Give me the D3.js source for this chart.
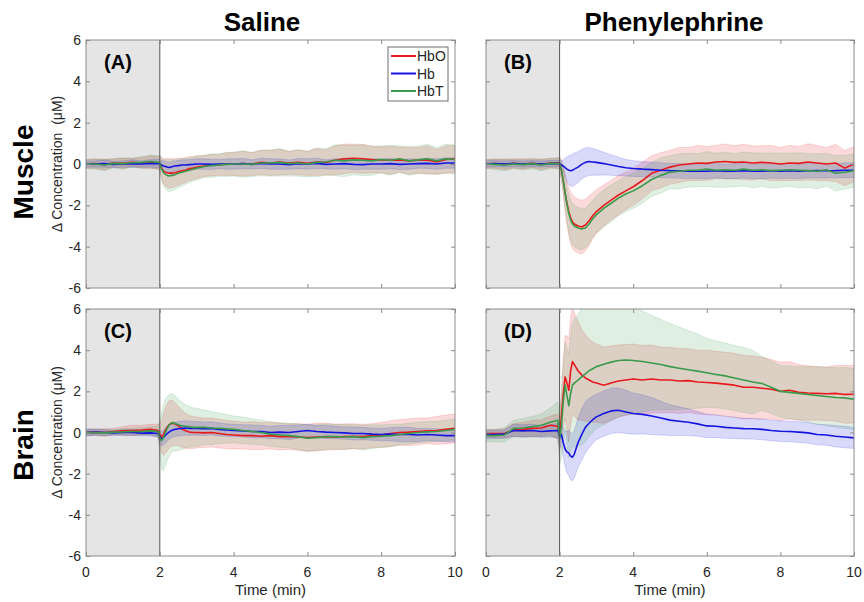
<!DOCTYPE html>
<html>
<head>
<meta charset="utf-8">
<script src="https://cdn.jsdelivr.net/npm/d3@7.9.0/dist/d3.min.js"></script>
<style>
  body { margin: 0; background: #fff; }
  svg { font-family: "Liberation Sans", Arial, sans-serif; }
</style>
</head>
<body>
<svg id="chart" width="864" height="602"></svg>
<script>
// time samples (min), shared by every series
const time = [0,0.25,0.5,0.75,1,1.25,1.5,1.75,1.95,2.0,
  2.05,2.1,2.15,2.2,2.25,2.3,2.35,2.4,2.5,2.6,2.7,2.8,2.9,3.0,
  3.2,3.4,3.6,3.8,4.0,4.25,4.5,4.75,5,5.25,5.5,5.75,6,6.25,6.5,6.75,
  7,7.25,7.5,7.75,8,8.25,8.5,8.75,9,9.25,9.5,9.75,10];

const xTicks = [0, 2, 4, 6, 8, 10];
const yTicks = [-6, -4, -2, 0, 2, 4, 6];
const colTitles = ["Saline", "Phenylephrine"];
const rowTitles = ["Muscle", "Brain"];
const seriesNames = ["HbO", "Hb", "HbT"];

// (A) saline / muscle
const aHbO = [0,0.02,-0.03,0.05,0.03,0.08,0.05,0.1,0.05,0.05,
  -0.2,-0.35,-0.4,-0.42,-0.45,-0.43,-0.45,-0.42,-0.38,-0.33,-0.3,-0.22,-0.2,-0.15,
  -0.1,-0.05,-0.05,0,0,0.02,0,0.08,0.05,0.1,0.05,0.08,0.03,0.1,0.08,0.18,
  0.25,0.28,0.25,0.22,0.2,0.18,0.2,0.15,0.18,0.2,0.1,0.22,0.25];
const aHbOsd = [0.2,0.22,0.25,0.2,0.25,0.2,0.25,0.3,0.3,0.35,
  0.5,0.6,0.65,0.7,0.72,0.7,0.7,0.68,0.65,0.62,0.6,0.58,0.55,0.55,
  0.5,0.52,0.5,0.55,0.55,0.6,0.55,0.58,0.6,0.62,0.55,0.6,0.58,0.65,0.6,0.7,
  0.72,0.68,0.7,0.65,0.62,0.68,0.6,0.65,0.62,0.68,0.6,0.65,0.65];
const aHb = [0,0,0.02,-0.02,0,0.02,0,0.03,0.02,0.02,
  -0.05,-0.1,-0.12,-0.15,-0.17,-0.15,-0.12,-0.1,-0.08,-0.05,-0.05,-0.03,-0.02,0,
  0,-0.02,0,0,0,0.02,-0.02,0.03,0,0,-0.03,0.02,0,0.03,-0.02,0,
  0.02,-0.02,-0.03,0,0,0.02,-0.02,0,0.02,0.03,0,0.05,0.05];
const aHbsd = [0.15,0.15,0.18,0.15,0.15,0.18,0.15,0.18,0.2,0.2,
  0.22,0.25,0.25,0.25,0.25,0.25,0.25,0.25,0.25,0.25,0.25,0.25,0.25,0.25,
  0.25,0.25,0.22,0.25,0.25,0.25,0.22,0.25,0.25,0.25,0.22,0.25,0.25,0.25,0.22,0.25,
  0.25,0.25,0.22,0.25,0.25,0.25,0.25,0.25,0.22,0.25,0.25,0.25,0.25];
const aHbT = [0,0,-0.05,0.03,0.02,0.06,0.08,0.12,0.08,0.06,
  -0.25,-0.42,-0.5,-0.55,-0.58,-0.55,-0.55,-0.52,-0.45,-0.4,-0.35,-0.3,-0.25,-0.2,
  -0.12,-0.08,-0.05,-0.02,0,0,-0.02,0.05,0.05,0.08,0.02,0.05,0,0.08,0.1,0.18,
  0.15,0.2,0.18,0.15,0.22,0.18,0.25,0.15,0.2,0.25,0.15,0.25,0.22];
const aHbTsd = [0.22,0.25,0.28,0.22,0.28,0.22,0.28,0.32,0.32,0.38,
  0.55,0.65,0.7,0.75,0.78,0.76,0.75,0.72,0.7,0.66,0.63,0.6,0.58,0.58,
  0.54,0.56,0.54,0.58,0.58,0.64,0.58,0.62,0.64,0.66,0.6,0.64,0.62,0.7,0.64,0.75,
  0.76,0.72,0.74,0.7,0.66,0.72,0.64,0.7,0.66,0.72,0.64,0.7,0.7];

// (B) phenylephrine / muscle
const bHbO = [0,0.02,-0.02,0.03,0,0.03,-0.02,0.05,0.05,0.03,
  -0.3,-0.8,-1.4,-1.9,-2.3,-2.6,-2.8,-2.9,-3.0,-3.05,-2.95,-2.75,-2.5,-2.3,
  -2.0,-1.75,-1.5,-1.3,-1.1,-0.8,-0.45,-0.3,-0.15,-0.05,0,0.05,0.03,0.1,0.12,0.08,
  0.1,0.05,0.08,0.05,0,0.05,0.03,0.1,0.05,0,0.05,-0.2,0];
const bHbOsd = [0.2,0.22,0.25,0.22,0.25,0.2,0.25,0.22,0.25,0.3,
  0.5,0.7,0.9,1.05,1.15,1.25,1.3,1.3,1.3,1.3,1.25,1.2,1.1,1.05,
  1.0,0.95,0.95,0.9,0.9,0.88,0.85,0.85,0.82,0.85,0.8,0.85,0.82,0.8,0.85,0.8,
  0.85,0.82,0.8,0.85,0.8,0.85,0.82,0.88,0.85,0.8,0.9,0.85,0.85];
const bHb = [0,0.02,0,0.02,0,0.02,0,0.02,0.03,0.02,
  -0.05,-0.1,-0.18,-0.25,-0.3,-0.32,-0.3,-0.25,-0.15,-0.02,0.08,0.12,0.1,0.08,
  0.02,-0.05,-0.12,-0.18,-0.22,-0.25,-0.27,-0.3,-0.32,-0.33,-0.35,-0.35,-0.35,-0.33,-0.35,-0.35,
  -0.33,-0.35,-0.35,-0.33,-0.35,-0.33,-0.35,-0.33,-0.32,-0.33,-0.32,-0.3,-0.3];
const bHbsd = [0.15,0.15,0.15,0.15,0.15,0.15,0.15,0.15,0.15,0.15,
  0.2,0.3,0.45,0.6,0.7,0.75,0.78,0.78,0.75,0.72,0.7,0.68,0.65,0.62,
  0.55,0.5,0.45,0.4,0.38,0.37,0.36,0.36,0.35,0.36,0.35,0.35,0.36,0.35,0.35,0.36,
  0.35,0.35,0.36,0.35,0.35,0.36,0.35,0.35,0.36,0.35,0.35,0.36,0.35];
const bHbT = [0,-0.02,-0.05,0,-0.03,0.02,-0.05,0.03,0.02,0,
  -0.3,-0.8,-1.4,-1.95,-2.4,-2.7,-2.9,-3.0,-3.1,-3.15,-3.1,-2.9,-2.65,-2.45,
  -2.15,-1.9,-1.65,-1.45,-1.3,-1.05,-0.75,-0.55,-0.4,-0.35,-0.3,-0.3,-0.25,-0.3,-0.28,-0.3,
  -0.25,-0.3,-0.28,-0.32,-0.3,-0.28,-0.3,-0.32,-0.35,-0.28,-0.45,-0.4,-0.32];
const bHbTsd = [0.22,0.25,0.28,0.22,0.25,0.25,0.28,0.25,0.25,0.3,
  0.45,0.6,0.75,0.85,0.9,0.95,1.0,1.0,1.0,1.0,0.95,0.95,0.9,0.9,
  0.9,0.88,0.85,0.85,0.85,0.85,0.82,0.85,0.8,0.85,0.82,0.8,0.85,0.82,0.85,0.8,
  0.82,0.85,0.8,0.85,0.82,0.8,0.85,0.82,0.85,0.8,0.85,0.82,0.8];

// (C) saline / brain
const cHbO = [0,0.02,0,0.05,0.08,0.1,0.12,0.15,0.1,-0.1,
  -0.2,-0.1,0.1,0.25,0.38,0.43,0.45,0.42,0.32,0.18,0.08,0.02,0,0,
  -0.02,0,-0.05,-0.1,-0.12,-0.15,-0.15,-0.18,-0.15,-0.2,-0.2,-0.22,-0.25,-0.22,-0.2,-0.22,
  -0.2,-0.18,-0.2,-0.15,-0.12,-0.05,0,0.02,0.05,0.08,0.1,0.15,0.2];
const cHbOsd = [0.15,0.15,0.18,0.15,0.2,0.25,0.22,0.25,0.3,0.5,
  0.8,1.0,1.1,1.15,1.15,1.12,1.1,1.05,0.95,0.9,0.85,0.8,0.78,0.75,
  0.72,0.7,0.7,0.68,0.68,0.65,0.68,0.65,0.65,0.65,0.62,0.65,0.65,0.68,0.65,0.62,
  0.62,0.6,0.6,0.58,0.6,0.62,0.62,0.65,0.65,0.62,0.68,0.7,0.7];
const cHb = [0,0.02,0,-0.02,0,0,-0.03,-0.02,-0.05,-0.2,
  -0.3,-0.25,-0.15,-0.05,0.02,0.08,0.12,0.15,0.18,0.2,0.22,0.2,0.2,0.2,
  0.18,0.2,0.15,0.12,0.1,0.08,0.05,0.05,0,0.02,0,0.05,0.1,0.05,0.02,0,
  -0.02,-0.05,-0.05,-0.08,-0.1,-0.08,-0.1,-0.1,-0.12,-0.1,-0.12,-0.15,-0.15];
const cHbsd = [0.18,0.15,0.15,0.12,0.15,0.15,0.12,0.15,0.18,0.25,
  0.35,0.35,0.38,0.38,0.36,0.35,0.35,0.35,0.35,0.35,0.35,0.35,0.33,0.33,
  0.33,0.32,0.32,0.3,0.3,0.3,0.32,0.3,0.3,0.32,0.35,0.32,0.3,0.3,0.32,0.3,
  0.3,0.32,0.3,0.3,0.3,0.32,0.35,0.35,0.32,0.3,0.3,0.3,0.3];
const cHbT = [0,0,-0.02,0.02,0.03,0.05,0.05,0.08,0.05,-0.25,
  -0.4,-0.25,0,0.2,0.35,0.45,0.48,0.45,0.38,0.32,0.3,0.28,0.25,0.25,
  0.25,0.22,0.2,0.18,0.15,0.1,0.05,0,-0.08,-0.12,-0.15,-0.2,-0.28,-0.25,-0.2,-0.2,
  -0.22,-0.2,-0.25,-0.2,-0.18,-0.15,-0.1,-0.05,0,0.03,0.05,0.1,0.15];
const cHbTsd = [0.12,0.15,0.15,0.12,0.15,0.15,0.18,0.2,0.25,0.8,
  1.4,1.6,1.6,1.55,1.5,1.45,1.4,1.35,1.25,1.15,1.05,1.0,0.95,0.92,
  0.85,0.8,0.75,0.7,0.65,0.65,0.62,0.6,0.6,0.6,0.6,0.62,0.65,0.62,0.62,0.6,
  0.6,0.58,0.6,0.58,0.55,0.55,0.5,0.5,0.5,0.5,0.48,0.5,0.5];

// (D) phenylephrine / brain
const dHbO = [-0.05,-0.05,-0.05,0.12,0.15,0.2,0.22,0.35,0.3,-0.1,
  0.8,1.9,2.7,2.4,2.05,3.0,3.45,3.3,3.0,2.8,2.65,2.55,2.45,2.4,
  2.3,2.4,2.5,2.55,2.6,2.55,2.6,2.55,2.55,2.5,2.52,2.45,2.43,2.4,2.35,2.3,
  2.2,2.2,2.15,2.1,2.0,2.05,1.95,1.92,1.9,1.88,1.9,1.85,1.86];
const dHbOsd = [0.2,0.2,0.22,0.3,0.35,0.38,0.4,0.45,0.6,0.8,
  1.2,1.6,2.0,2.3,2.5,2.6,2.6,2.5,2.4,2.2,2.1,2.0,1.95,1.9,
  1.85,1.8,1.75,1.72,1.7,1.68,1.65,1.6,1.58,1.58,1.55,1.55,1.57,1.55,1.55,1.55,
  1.55,1.52,1.5,1.45,1.42,1.4,1.35,1.32,1.3,1.3,1.35,1.4,1.4];
const dHb = [-0.1,-0.1,-0.08,0.1,0.08,0.1,0.05,0.08,0.1,-0.2,
  -0.1,-0.5,-0.8,-0.95,-1.0,-1.15,-1.2,-1.05,-0.5,-0.1,0.25,0.45,0.62,0.76,
  0.92,1.05,1.08,1.0,0.92,0.88,0.8,0.7,0.6,0.55,0.5,0.42,0.32,0.3,0.25,0.22,
  0.19,0.18,0.15,0.1,0.06,0.05,0.02,-0.02,-0.1,-0.12,-0.18,-0.22,-0.26];
const dHbsd = [0.2,0.2,0.2,0.3,0.3,0.3,0.28,0.3,0.35,0.5,
  0.6,0.7,0.85,1.0,1.1,1.15,1.15,1.15,1.2,1.25,1.25,1.2,1.15,1.1,
  1.1,1.1,1.08,1.05,1.0,0.95,0.9,0.82,0.75,0.7,0.65,0.6,0.57,0.55,0.53,0.52,
  0.5,0.5,0.5,0.5,0.5,0.5,0.5,0.5,0.5,0.5,0.52,0.52,0.52];
const dHbT = [-0.15,-0.15,-0.12,0.2,0.22,0.28,0.35,0.5,0.6,-0.3,
  0.3,1.5,2.3,1.8,1.3,1.9,2.3,2.4,2.55,2.7,2.85,3.0,3.1,3.2,
  3.32,3.42,3.5,3.52,3.5,3.45,3.38,3.3,3.2,3.12,3.05,2.98,2.9,2.82,2.75,2.65,
  2.55,2.45,2.38,2.2,2.0,1.95,1.9,1.85,1.8,1.75,1.7,1.68,1.62];
const dHbTsd = [0.3,0.3,0.35,0.4,0.45,0.5,0.55,0.7,0.9,1.2,
  1.6,1.9,2.1,2.3,2.5,2.8,3.0,3.1,3.2,3.3,3.3,3.2,3.1,3.0,
  2.95,2.85,2.75,2.65,2.6,2.45,2.3,2.2,2.1,2.0,1.9,1.8,1.68,1.62,1.6,1.58,
  1.58,1.55,1.3,1.28,1.26,1.28,1.3,1.35,1.4,1.42,1.45,1.48,1.5];

const colors = { HbO: "#e8191c", Hb: "#1414e0", HbT: "#3a9a4c" };

const panels = [
  { label: "(A)", col: 0, row: 0, HbO: aHbO, HbOsd: aHbOsd, Hb: aHb, Hbsd: aHbsd, HbT: aHbT, HbTsd: aHbTsd, legend: true },
  { label: "(B)", col: 1, row: 0, HbO: bHbO, HbOsd: bHbOsd, Hb: bHb, Hbsd: bHbsd, HbT: bHbT, HbTsd: bHbTsd },
  { label: "(C)", col: 0, row: 1, HbO: cHbO, HbOsd: cHbOsd, Hb: cHb, Hbsd: cHbsd, HbT: cHbT, HbTsd: cHbTsd },
  { label: "(D)", col: 1, row: 1, HbO: dHbO, HbOsd: dHbOsd, Hb: dHb, Hbsd: dHbsd, HbT: dHbT, HbTsd: dHbTsd }
];

const colX = [[86, 455], [486, 854]];
const rowY = [[40, 288], [309, 556]];
const tickLen = 4;

const svg = d3.select("#chart");

// column titles
colTitles.forEach((t, i) => {
  svg.append("text")
    .attr("x", i === 0 ? 262 : 674).attr("y", 31)
    .attr("text-anchor", "middle")
    .attr("font-size", 26).attr("font-weight", "bold")
    .text(t);
});

// row titles
rowTitles.forEach((t, i) => {
  const cy = i === 0 ? 172 : 445;
  svg.append("text")
    .attr("transform", `translate(33,${cy}) rotate(-90)`)
    .attr("text-anchor", "middle")
    .attr("font-size", 28).attr("font-weight", "bold")
    .text(t);
});

panels.forEach((p, k) => {
  const [x0, x1] = colX[p.col];
  const [y0, y1] = rowY[p.row];
  const x = d3.scaleLinear().domain([0, 10]).range([x0, x1]);
  const y = d3.scaleLinear().domain([-6, 6]).range([y1, y0]);

  const g = svg.append("g");
  const clipId = "clip" + k;
  g.append("clipPath").attr("id", clipId)
    .append("rect").attr("x", x0).attr("y", y0).attr("width", x1 - x0).attr("height", y1 - y0);

  // baseline period shading
  g.append("rect")
    .attr("x", x(0)).attr("y", y0)
    .attr("width", x(2) - x(0)).attr("height", y1 - y0)
    .attr("fill", "#e5e5e5");

  const plot = g.append("g").attr("clip-path", `url(#${clipId})`);

  // shaded bands (mean ± sd)
  seriesNames.forEach(s => {
    const mean = p[s], sd = p[s + "sd"];
    const area = d3.area()
      .x((d, i) => x(time[i]))
      .y0((d, i) => y(mean[i] - sd[i]))
      .y1((d, i) => y(mean[i] + sd[i]));
    plot.append("path")
      .attr("d", area(mean))
      .attr("fill", colors[s]).attr("fill-opacity", 0.16)
      .attr("stroke", colors[s]).attr("stroke-opacity", 0.2).attr("stroke-width", 0.8);
  });

  // mean lines
  seriesNames.forEach(s => {
    const line = d3.line().x((d, i) => x(time[i])).y(d => y(d));
    plot.append("path")
      .attr("d", line(p[s]))
      .attr("fill", "none")
      .attr("stroke", colors[s]).attr("stroke-width", 1.6)
      .attr("stroke-linejoin", "round");
  });

  // stimulus onset line
  g.append("line")
    .attr("x1", x(2)).attr("x2", x(2)).attr("y1", y0).attr("y2", y1)
    .attr("stroke", "#555").attr("stroke-width", 1);

  // frame
  g.append("rect")
    .attr("x", x0).attr("y", y0).attr("width", x1 - x0).attr("height", y1 - y0)
    .attr("fill", "none").attr("stroke", "#8c8c8c").attr("stroke-width", 1);

  // inward ticks on all four sides
  const tickColor = "#8c8c8c";
  const axL = g.append("g").attr("transform", `translate(${x0},0)`)
    .call(d3.axisRight(y).tickValues(yTicks).tickSize(tickLen).tickFormat(""));
  const axR = g.append("g").attr("transform", `translate(${x1},0)`)
    .call(d3.axisLeft(y).tickValues(yTicks).tickSize(tickLen).tickFormat(""));
  const axB = g.append("g").attr("transform", `translate(0,${y1})`)
    .call(d3.axisTop(x).tickValues(xTicks).tickSize(tickLen).tickFormat(""));
  const axT = g.append("g").attr("transform", `translate(0,${y0})`)
    .call(d3.axisBottom(x).tickValues(xTicks).tickSize(tickLen).tickFormat(""));
  [axL, axR, axB, axT].forEach(a => {
    a.select(".domain").remove();
    a.selectAll("line").attr("stroke", tickColor);
  });

  // tick labels
  if (p.col === 0) {
    g.selectAll(null).data(yTicks).enter().append("text")
      .attr("x", x0 - 5).attr("y", d => y(d) + 5)
      .attr("text-anchor", "end")
      .attr("font-size", 14).attr("fill", "#262626")
      .text(d => d);
    g.append("text")
      .attr("transform", `translate(62,${(y0 + y1) / 2}) rotate(-90)`)
      .attr("text-anchor", "middle")
      .attr("font-size", 14).attr("fill", "#262626")
      .text(p.row === 0 ? "\u0394 Concentration\u00a0 (\u03bcM)" : "\u0394 Concentration (\u03bcM)");
  }
  if (p.row === 1) {
    g.selectAll(null).data(xTicks).enter().append("text")
      .attr("x", d => x(d)).attr("y", y1 + 21)
      .attr("text-anchor", "middle")
      .attr("font-size", 14).attr("fill", "#262626")
      .text(d => d);
    g.append("text")
      .attr("x", (x0 + x1) / 2).attr("y", 595)
      .attr("text-anchor", "middle")
      .attr("font-size", 15).attr("fill", "#262626")
      .text("Time (min)");
  }

  // panel letter
  g.append("text")
    .attr("x", x0 + 32).attr("y", y0 + 29)
    .attr("text-anchor", "middle")
    .attr("font-size", 20).attr("font-weight", "bold")
    .text(p.label);

  // legend
  if (p.legend) {
    const lg = g.append("g");
    lg.append("rect")
      .attr("x", 388).attr("y", 47).attr("width", 60).attr("height", 54)
      .attr("fill", "#fff").attr("stroke", "#6e6e6e").attr("stroke-width", 1);
    seriesNames.forEach((s, i) => {
      const ly = 56 + i * 17.5;
      lg.append("line")
        .attr("x1", 391).attr("x2", 416).attr("y1", ly).attr("y2", ly)
        .attr("stroke", colors[s]).attr("stroke-width", 2);
      lg.append("text")
        .attr("x", 417).attr("y", ly + 5)
        .attr("font-size", 14).attr("fill", "#262626")
        .text(s);
    });
  }
});
</script>
</body>
</html>
